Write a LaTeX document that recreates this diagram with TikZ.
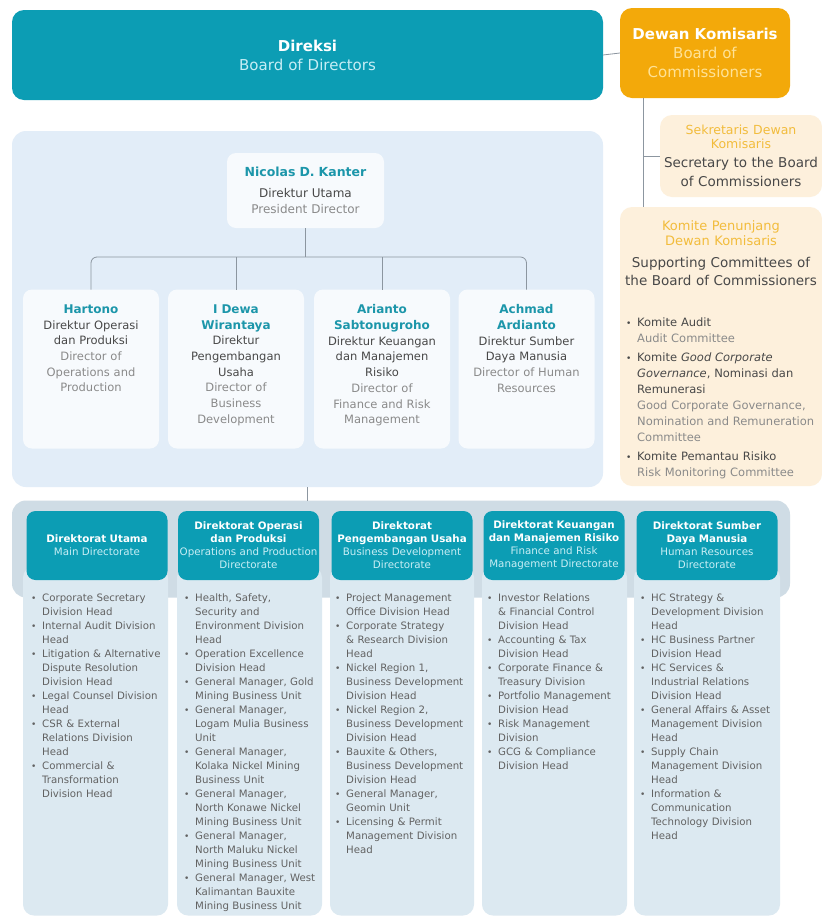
\documentclass[tikz,border=0pt]{standalone}
\usepackage{fontspec}
\setmainfont{DejaVu Sans}
\usepackage{tikz}
\usetikzlibrary{calc,positioning}

\definecolor{dirteal}{RGB}{12,157,180}
\definecolor{nameteal}{RGB}{28,150,170}
\definecolor{tealsub}{RGB}{200,238,245}
\definecolor{komorange}{RGB}{243,169,10}
\definecolor{orangesub}{RGB}{255,226,150}
\definecolor{beige}{RGB}{253,240,220}
\definecolor{gold}{RGB}{242,188,60}
\definecolor{darktext}{RGB}{72,72,72}
\definecolor{greytext}{RGB}{138,138,138}
\definecolor{listgrey}{RGB}{98,98,98}
\definecolor{panelblue}{RGB}{226,237,248}
\definecolor{cardwhite}{RGB}{247,250,253}
\definecolor{bandgrey}{RGB}{207,220,229}
\definecolor{colblue}{RGB}{220,233,241}
\definecolor{linegrey}{RGB}{140,150,160}

% bullet item with hanging indent
\newcommand{\li}[1]{\par\hangindent=11pt\hangafter=1\noindent\hbox to 11pt{{\small\textbullet}\hfil}{\let\\\newline#1}\par}

\begin{document}
\begin{tikzpicture}[x=1pt, y=-1pt,
    link/.style={draw=linegrey, line width=0.8pt},
    tealbox/.style={fill=dirteal, rounded corners=12pt, inner sep=0pt, outer sep=0pt, text=white, align=center},
    orangebox/.style={fill=komorange, rounded corners=12pt, inner sep=0pt, outer sep=0pt, text=white, align=center},
    beigebox/.style={fill=beige, rounded corners=12pt, inner sep=0pt, outer sep=0pt, text=darktext, align=center},
    card/.style={fill=cardwhite, rounded corners=9pt, inner sep=0pt, outer sep=0pt, minimum width=136pt, minimum height=159pt},
    cardtext/.style={text width=134pt, align=center, inner sep=0pt, text=darktext, font=\fontsize{11.5}{15.7}\selectfont},
    head/.style={tealbox, rounded corners=9pt, minimum width=141pt, minimum height=69pt, text width=141pt, font=\fontsize{10.3}{13}\selectfont},
    column/.style={fill=colblue, rounded corners=11pt, inner sep=0pt, outer sep=0pt},
    listtext/.style={anchor=north west, text width=140pt, align=left, inner sep=0pt, text=listgrey, font=\fontsize{10.2}{14}\selectfont}
  ]

  \fill[white] (0,0) rectangle (822,919);
  \useasboundingbox (0,0) rectangle (822,919);

  % top row
  \node[tealbox, minimum width=591pt, minimum height=90pt, text width=400pt, font=\fontsize{15}{19}\selectfont] (direksi) at (307.5,55)
    {\textbf{Direksi}\\{\color{tealsub}Board of Directors}};
  \node[orangebox, minimum width=170pt, minimum height=90pt, text width=170pt, font=\fontsize{15}{19}\selectfont] (dewan) at (705,53)
    {\textbf{Dewan Komisaris}\\{\color{orangesub}Board of\\Commissioners}};
  \draw[link] (direksi.east) -- (dewan.west);

  % commissioners side
  \node[beigebox, minimum width=162pt, minimum height=82pt, text width=162pt, font=\fontsize{13.5}{19}\selectfont] (sekretaris) at (741,156)
    {{\fontsize{12.5}{13.5}\selectfont\color{gold}Sekretaris Dewan\\Komisaris\\}Secretary to the Board\\of Commissioners};
  \node[beigebox, minimum width=202pt, minimum height=279pt] (komite) at (721,346.5) {};
  \node[anchor=north, text width=200pt, align=center, inner sep=0pt, text=darktext, font=\fontsize{13.5}{18}\selectfont] (komite-t) at (721,220)
    {{\fontsize{13}{15}\selectfont\color{gold}Komite Penunjang\\Dewan Komisaris\\[4pt]}Supporting Committees of\\the Board of Commissioners};
  \node[anchor=north west, text width=196pt, align=left, inner sep=0pt, text=darktext, font=\fontsize{11.5}{16}\selectfont] (komite-l) at (626,307)
    {\setlength{\parskip}{3pt}%
     \li{Komite Audit\\{\color{greytext}Audit Committee}}
     \li{Komite \textit{Good Corporate}\\\textit{Governance}, Nominasi dan\\Remunerasi\\{\color{greytext}Good Corporate Governance,\\Nomination and Remuneration\\Committee}}
     \li{Komite Pemantau Risiko\\{\color{greytext}Risk Monitoring Committee}}};

  \coordinate (trunk) at ($(dewan.south west)+(23,0)$);
  \draw[link] (trunk) -- (trunk |- komite.north);
  \draw[link] (trunk |- sekretaris.west) -- (sekretaris.west);

  % board of directors panel
  \node[fill=panelblue, rounded corners=14pt, inner sep=0pt, outer sep=0pt, minimum width=591pt, minimum height=356pt] (panel) at (307.5,309) {};

  \node[fill=cardwhite, rounded corners=9pt, inner sep=0pt, outer sep=0pt, minimum width=157pt, minimum height=75pt,
        text width=157pt, align=center, text=darktext, font=\fontsize{12}{16}\selectfont] (nicolas) at (305.5,190.5)
    {{\fontsize{12.5}{16}\selectfont\bfseries\color{nameteal}Nicolas D. Kanter\\[5pt]}Direktur Utama\\{\color{greytext}President Director}};

  \node[card] (hartono) at (91,369) {};
  \node[card] (dewa) at (236,369) {};
  \node[card] (arianto) at (382,369) {};
  \node[card] (achmad) at (526.5,369) {};

  \node[cardtext, below=15pt of hartono.north] (hartono-t)
    {{\fontsize{12}{15.7}\selectfont\bfseries\color{nameteal}Hartono\\}Direktur Operasi\\dan Produksi\\{\color{greytext}Director of\\Operations and\\Production}};
  \node[cardtext, below=15pt of dewa.north] (dewa-t)
    {{\fontsize{12}{15.7}\selectfont\bfseries\color{nameteal}I Dewa\\Wirantaya\\}Direktur\\Pengembangan\\Usaha\\{\color{greytext}Director of\\Business\\Development}};
  \node[cardtext, below=15pt of arianto.north] (arianto-t)
    {{\fontsize{12}{15.7}\selectfont\bfseries\color{nameteal}Arianto\\Sabtonugroho\\}Direktur Keuangan\\dan Manajemen\\Risiko\\{\color{greytext}Director of\\Finance and Risk\\Management}};
  \node[cardtext, below=15pt of achmad.north] (achmad-t)
    {{\fontsize{12}{15.7}\selectfont\bfseries\color{nameteal}Achmad\\Ardianto\\}Direktur Sumber\\Daya Manusia\\{\color{greytext}Director of Human\\Resources}};

  \draw[link] (nicolas.south) -- ++(0,29) coordinate (split);
  \draw[link, rounded corners=6pt] (hartono.north) |- (split) -| (achmad.north);
  \draw[link] (dewa.north) -- (dewa.north |- split);
  \draw[link] (arianto.north) -- (arianto.north |- split);

  % directorates
  \node[fill=bandgrey, rounded corners=14pt, inner sep=0pt, outer sep=0pt, minimum width=778pt, minimum height=97pt] (band) at (401,549) {};
  \draw[link] (panel.south) -- (panel.south |- band.north);

  \node[column, minimum width=145pt, minimum height=349pt] (c1) at (95.5,741) {};
  \node[column, minimum width=145pt, minimum height=349pt] (c2) at (249.5,741) {};
  \node[column, minimum width=144pt, minimum height=349pt] (c3) at (402,741) {};
  \node[column, minimum width=145pt, minimum height=349pt] (c4) at (554.5,741) {};
  \node[column, minimum width=146pt, minimum height=349pt] (c5) at (707,741) {};

  \node[head] (h1) at (97,545.5)
    {\textbf{Direktorat Utama}\\{\color{tealsub}Main Directorate}};
  \node[head] (h2) at (248.5,545.5)
    {{\bfseries Direktorat Operasi\\dan Produksi\\}{\color{tealsub}Operations and Production\\Directorate}};
  \node[head] (h3) at (402,545.5)
    {{\bfseries Direktorat\\Pengembangan Usaha\\}{\color{tealsub}Business Development\\Directorate}};
  \node[head] (h4) at (554,545.5)
    {{\bfseries Direktorat Keuangan\\dan Manajemen Risiko\\}{\color{tealsub}Finance and Risk\\Management Directorate}};
  \node[head] (h5) at (707,545.5)
    {{\bfseries Direktorat Sumber\\Daya Manusia\\}{\color{tealsub}Human Resources\\Directorate}};

  \node[listtext] (l1) at (31,587)
    {\li{Corporate Secretary\\Division Head}
     \li{Internal Audit Division\\Head}
     \li{Litigation \& Alternative\\Dispute Resolution\\Division Head}
     \li{Legal Counsel Division\\Head}
     \li{CSR \& External\\Relations Division\\Head}
     \li{Commercial \&\\Transformation\\Division Head}};
  \node[listtext] (l2) at (184,587)
    {\li{Health, Safety,\\Security and\\Environment Division\\Head}
     \li{Operation Excellence\\Division Head}
     \li{General Manager, Gold\\Mining Business Unit}
     \li{General Manager,\\Logam Mulia Business\\Unit}
     \li{General Manager,\\Kolaka Nickel Mining\\Business Unit}
     \li{General Manager,\\North Konawe Nickel\\Mining Business Unit}
     \li{General Manager,\\North Maluku Nickel\\Mining Business Unit}
     \li{General Manager, West\\Kalimantan Bauxite\\Mining Business Unit}};
  \node[listtext] (l3) at (335,587)
    {\li{Project Management\\Office Division Head}
     \li{Corporate Strategy\\\& Research Division\\Head}
     \li{Nickel Region 1,\\Business Development\\Division Head}
     \li{Nickel Region 2,\\Business Development\\Division Head}
     \li{Bauxite \& Others,\\Business Development\\Division Head}
     \li{General Manager,\\Geomin Unit}
     \li{Licensing \& Permit\\Management Division\\Head}};
  \node[listtext] (l4) at (487,587)
    {\li{Investor Relations\\\& Financial Control\\Division Head}
     \li{Accounting \& Tax\\Division Head}
     \li{Corporate Finance \&\\Treasury Division}
     \li{Portfolio Management\\Division Head}
     \li{Risk Management\\Division}
     \li{GCG \& Compliance\\Division Head}};
  \node[listtext] (l5) at (640,587)
    {\li{HC Strategy \&\\Development Division\\Head}
     \li{HC Business Partner\\Division Head}
     \li{HC Services \&\\Industrial Relations\\Division Head}
     \li{General Affairs \& Asset\\Management Division\\Head}
     \li{Supply Chain\\Management Division\\Head}
     \li{Information \&\\Communication\\Technology Division\\Head}};

\end{tikzpicture}
\end{document}
